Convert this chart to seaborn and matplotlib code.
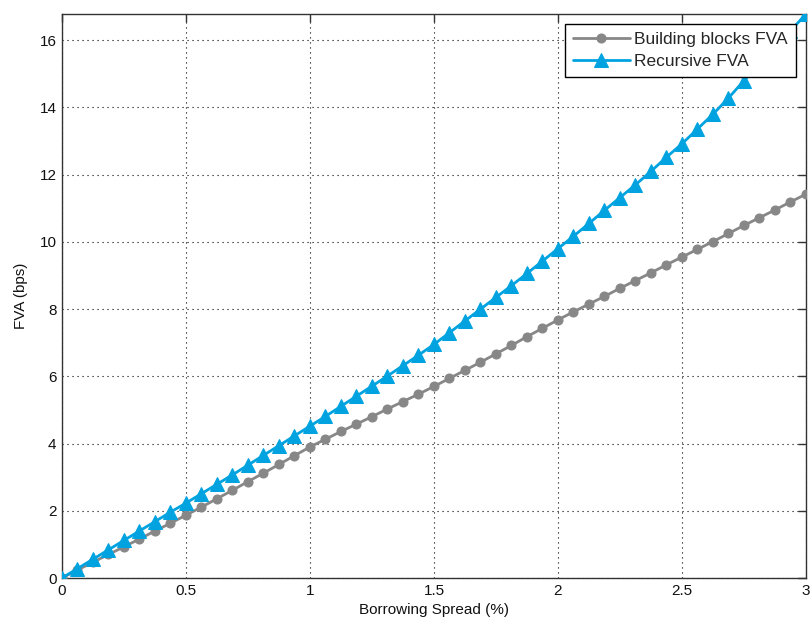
import matplotlib
matplotlib.use("Agg")
import matplotlib.pyplot as plt
import seaborn as sns
import pandas as pd

# Data
spread = [0.0, 0.0625, 0.125, 0.1875, 0.25, 0.3125, 0.375, 0.4375, 0.5,
          0.5625, 0.625, 0.6875, 0.75, 0.8125, 0.875, 0.9375, 1.0,
          1.0625, 1.125, 1.1875, 1.25, 1.3125, 1.375, 1.4375, 1.5,
          1.5625, 1.625, 1.6875, 1.75, 1.8125, 1.875, 1.9375, 2.0,
          2.0625, 2.125, 2.1875, 2.25, 2.3125, 2.375, 2.4375, 2.5,
          2.5625, 2.625, 2.6875, 2.75, 2.8125, 2.875, 2.9375, 3.0]

building_blocks = [0.0, 0.24, 0.47, 0.70, 0.93, 1.16, 1.40, 1.63, 1.87,
                   2.11, 2.36, 2.61, 2.87, 3.12, 3.38, 3.64, 3.90,
                   4.13, 4.36, 4.58, 4.80, 5.03, 5.25, 5.47, 5.70,
                   5.94, 6.18, 6.42, 6.67, 6.92, 7.18, 7.43, 7.68,
                   7.92, 8.15, 8.38, 8.62, 8.85, 9.08, 9.32, 9.55,
                   9.78, 10.01, 10.25, 10.49, 10.72, 10.95, 11.19, 11.42]

recursive = [0.0, 0.28, 0.56, 0.84, 1.12, 1.40, 1.68, 1.96, 2.23,
             2.51, 2.79, 3.07, 3.36, 3.65, 3.94, 4.23, 4.52,
             4.81, 5.11, 5.41, 5.71, 6.01, 6.32, 6.63, 6.95,
             7.30, 7.65, 8.00, 8.35, 8.70, 9.06, 9.43, 9.80,
             10.17, 10.55, 10.94, 11.32, 11.70, 12.10, 12.52, 12.92,
             13.36, 13.80, 14.28, 14.80, 15.28, 15.78, 16.28, 16.78]

series_names = ["Building blocks FVA", "Recursive FVA"]
x_ticks = [0, 0.5, 1, 1.5, 2, 2.5, 3]
x_tick_labels = ["0", "0.5", "1", "1.5", "2", "2.5", "3"]
y_ticks = [0, 2, 4, 6, 8, 10, 12, 14, 16]
y_tick_labels = ["0", "2", "4", "6", "8", "10", "12", "14", "16"]

sns.set_style("white")
plt.rcParams["font.family"] = ["Liberation Sans", "DejaVu Sans"]

fig = plt.figure(figsize=(8.12, 6.30), dpi=100)
ax = fig.add_axes([62 / 812, 52 / 630, 744 / 812, 564 / 630])

df_gray = pd.DataFrame({"x": spread, "y": building_blocks})
df_blue = pd.DataFrame({"x": spread, "y": recursive})

sns.lineplot(data=df_gray, x="x", y="y", ax=ax, color="#878787",
             linewidth=2.0, marker="o", markersize=6.5,
             markeredgecolor="#878787", markerfacecolor="#878787",
             label=series_names[0], zorder=3)
sns.lineplot(data=df_blue, x="x", y="y", ax=ax, color="#00A3E0",
             linewidth=2.0, marker="^", markersize=9.5,
             markeredgecolor="#00A3E0", markerfacecolor="#00A3E0",
             label=series_names[1], zorder=4)

ax.set_xlim(0, 3)
ax.set_ylim(0, max(recursive))
ax.set_xticks(x_ticks)
ax.set_xticklabels(x_tick_labels)
ax.set_yticks(y_ticks)
ax.set_yticklabels(y_tick_labels)

ax.grid(True, color="black", linestyle=(0, (1, 3.5)), linewidth=0.8)
ax.set_axisbelow(True)

for s in ax.spines.values():
    s.set_color("#333333")
    s.set_linewidth(1.0)
    s.set_visible(True)

ax.tick_params(axis="both", which="both", direction="in", length=6,
               width=1.0, color="#333333", top=True, right=True,
               labelsize=11, labelcolor="#111111", pad=4)

ax.set_xlabel("Borrowing Spread (%)", fontsize=11, color="#111111", labelpad=4)
ax.set_ylabel("FVA (bps)", fontsize=11, color="#111111", labelpad=8)

leg = ax.legend(loc="upper right", fontsize=12.5, frameon=True, fancybox=False,
                borderaxespad=0.6, handlelength=3.3, borderpad=0.45,
                labelspacing=0.4, handletextpad=0.25)
leg.get_frame().set_edgecolor("black")
leg.get_frame().set_linewidth(1.0)
leg.get_frame().set_alpha(1.0)
leg.set_zorder(10)

fig.savefig("out.png", dpi=100, facecolor="white")
